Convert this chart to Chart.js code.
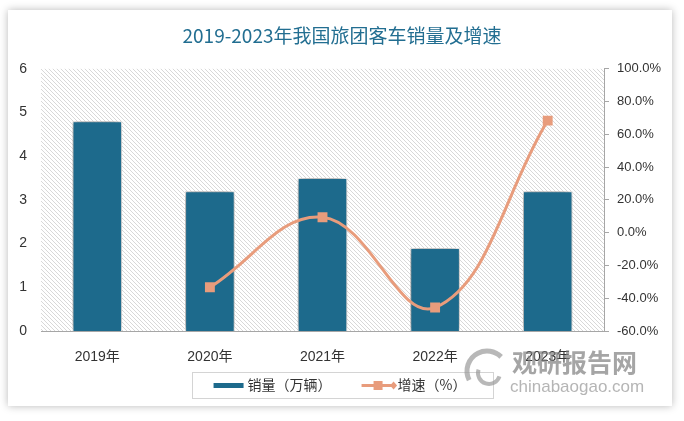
<!DOCTYPE html>
<html>
<head>
<meta charset="utf-8">
<script src="https://cdn.jsdelivr.net/npm/chart.js@4.4.1/dist/chart.umd.min.js"></script>
<style>
  html, body { margin: 0; padding: 0; background: #ffffff; }
  #wrap { position: relative; width: 684px; height: 421px; overflow: hidden; }
  #card { position: absolute; left: 8px; top: 10px; width: 664px; height: 396px; background: #fff;
          box-shadow: 0 0 8px rgba(0,0,0,0.28); }
  #c { position: absolute; left: 0; top: 0; }
</style>
</head>
<body>
<div id="wrap">
  <div id="card"></div>
  <canvas id="c" width="684" height="421"></canvas>
</div>
<script>
// ---- data ----
const titleText = '2019-2023年我国旅团客车销量及增速';
const categories = ['2019年', '2020年', '2021年', '2022年', '2023年'];
const salesLabel = '销量（万辆）';
const salesValues = [4.8, 3.2, 3.5, 1.9, 3.2];
const growthLabel = '增速（%）';
const growthValues = [null, -33.3, 9.4, -45.7, 68.4];
const leftTicks = [0, 1, 2, 3, 4, 5, 6];
const rightTicks = [-60, -40, -20, 0, 20, 40, 60, 80, 100];

const barColor = '#1d6a8c';
const lineColor = '#e89c7c';
const axisColor = '#a6a6a6';

Chart.defaults.font.family = '"Liberation Sans", "Noto Sans CJK SC", sans-serif';
Chart.defaults.color = '#333333';

// hatch pattern for plot background
function makeHatch() {
  const t = document.createElement('canvas');
  t.width = 4; t.height = 4;
  const g = t.getContext('2d');
  g.fillStyle = '#ffffff';
  g.fillRect(0, 0, 4, 4);
  g.fillStyle = '#d8d8d8';
  for (let i = 0; i < 4; i++) g.fillRect(i, i, 1, 1);
  return t;
}

const hatchPlugin = {
  id: 'hatchBg',
  beforeDatasetsDraw(chart) {
    const { ctx, chartArea: a } = chart;
    ctx.save();
    ctx.fillStyle = ctx.createPattern(makeHatch(), 'repeat');
    ctx.fillRect(a.left, a.top, a.right - a.left, a.bottom - a.top);
    ctx.restore();
  }
};

const shadowPlugin = {
  id: 'barShadow',
  beforeDatasetDraw(chart, args) {
    if (args.meta.type === 'bar') {
      const ctx = chart.ctx;
      ctx.save();
      ctx.shadowColor = 'rgba(0,0,0,0.55)';
      ctx.shadowBlur = 9;
      ctx.shadowOffsetX = -1;
      ctx.shadowOffsetY = 0;
    }
  },
  afterDatasetDraw(chart, args) {
    if (args.meta.type === 'bar') chart.ctx.restore();
  }
};

const legendPlugin = {
  id: 'boxLegend',
  afterDraw(chart) {
    const ctx = chart.ctx;
    const ds = chart.data.datasets;
    ctx.save();
    ctx.font = '14px "Noto Sans CJK SC", "Liberation Sans", sans-serif';
    const w1 = ctx.measureText(ds[0].label).width;
    const w2 = ctx.measureText(ds[1].label).width;
    const sw = 30, gap = 4, itemGap = 30;
    const total = sw + gap + w1 + itemGap + 32 + gap + w2;
    const cy = 385;
    let x = chart.width / 2 - total / 2 - 2;
    // border box
    ctx.strokeStyle = '#d4d4d4';
    ctx.lineWidth = 1;
    ctx.strokeRect(Math.round(x - 22) + 0.5, 372.5, Math.round(total + 48), 26);
    // item 1: bar swatch
    ctx.fillStyle = ds[0].backgroundColor;
    ctx.fillRect(x, cy - 2, sw, 5);
    ctx.fillStyle = '#333333';
    ctx.textBaseline = 'middle';
    ctx.fillText(ds[0].label, x + sw + gap, cy);
    x += sw + gap + w1 + itemGap;
    // item 2: line with markers
    ctx.strokeStyle = ds[1].borderColor;
    ctx.lineWidth = 3;
    ctx.beginPath();
    ctx.moveTo(x, cy + 0.5);
    ctx.lineTo(x + 32, cy + 0.5);
    ctx.stroke();
    ctx.fillStyle = ds[1].borderColor;
    ctx.fillRect(x + 12, cy - 4, 9, 9);
    ctx.beginPath();
    ctx.moveTo(x + 32, cy - 3.5);
    ctx.lineTo(x + 35.5, cy + 0.5);
    ctx.lineTo(x + 32, cy + 4.5);
    ctx.lineTo(x + 28.5, cy + 0.5);
    ctx.closePath();
    ctx.fill();
    ctx.fillStyle = '#333333';
    ctx.fillText(ds[1].label, x + 32 + gap, cy);
    ctx.restore();
  }
};

const watermarkPlugin = {
  id: 'watermark',
  afterDraw(chart) {
    const ctx = chart.ctx;
    ctx.save();
    ctx.globalAlpha = 0.7;
    // simple logo arcs
    ctx.strokeStyle = '#9a9a9a';
    ctx.lineWidth = 5;
    ctx.beginPath();
    ctx.arc(487, 371, 20, Math.PI * 0.85, Math.PI * 1.75);
    ctx.stroke();
    ctx.lineWidth = 4;
    ctx.beginPath();
    ctx.arc(489, 373, 11, Math.PI * 0.1, Math.PI * 1.1);
    ctx.stroke();
    ctx.fillStyle = '#7f7f7f';
    ctx.textBaseline = 'middle';
    ctx.font = 'bold 25px "Noto Sans CJK SC", sans-serif';
    ctx.fillText('观研报告网', 512, 362);
    ctx.font = '17px "Liberation Sans", sans-serif';
    ctx.fillStyle = '#959595';
    ctx.fillText('chinabaogao.com', 510, 387);
    ctx.restore();
  }
};

new Chart(document.getElementById('c'), {
  data: {
    labels: categories,
    datasets: [
      {
        type: 'bar',
        label: salesLabel,
        data: salesValues,
        yAxisID: 'y',
        backgroundColor: barColor,
        borderColor: '#ffffff',
        borderWidth: 1,
        barPercentage: 0.44,
        categoryPercentage: 1,
        order: 2
      },
      {
        type: 'line',
        label: growthLabel,
        data: growthValues,
        yAxisID: 'y1',
        borderColor: lineColor,
        backgroundColor: lineColor,
        borderWidth: 3,
        tension: 0.4,
        pointStyle: 'rect',
        pointRadius: 7,
        pointBackgroundColor: lineColor,
        pointBorderWidth: 0,
        order: 1
      }
    ]
  },
  options: {
    responsive: false,
    animation: false,
    devicePixelRatio: 1,
    layout: { padding: { left: 0, right: 0, top: 0, bottom: 50 } },
    plugins: {
      legend: { display: false },
      tooltip: { enabled: false },
      title: {
        display: true,
        text: titleText,
        color: '#226e91',
        font: { size: 19, family: '"Noto Sans CJK SC", sans-serif', weight: 'normal' },
        padding: { top: 24, bottom: 22 }
      }
    },
    scales: {
      x: {
        offset: true,
        grid: { display: false },
        border: { display: true, color: axisColor, width: 1 },
        ticks: { color: '#333333', font: { size: 14 }, padding: 10 },
        afterFit(s) { s.height = 40; }
      },
      y: {
        position: 'left',
        min: 0, max: 6,
        afterBuildTicks(s) { s.ticks = leftTicks.map(v => ({ value: v })); },
        grid: { display: false, drawTicks: false },
        border: { display: false },
        ticks: { color: '#333333', font: { size: 14 }, padding: 14 },
        afterFit(s) { s.width = 41; }
      },
      y1: {
        position: 'right',
        min: -60, max: 100,
        afterBuildTicks(s) { s.ticks = rightTicks.map(v => ({ value: v })); },
        grid: { display: true, drawOnChartArea: false, drawTicks: true, tickLength: 5, color: axisColor },
        border: { display: true, color: axisColor, width: 1 },
        ticks: { color: '#333333', font: { size: 13 }, padding: 8,
                 callback: v => Number(v).toFixed(1) + '%' },
        afterFit(s) { s.width = 80; }
      }
    }
  },
  plugins: [hatchPlugin, shadowPlugin, legendPlugin, watermarkPlugin]
});
</script>
</body>
</html>
